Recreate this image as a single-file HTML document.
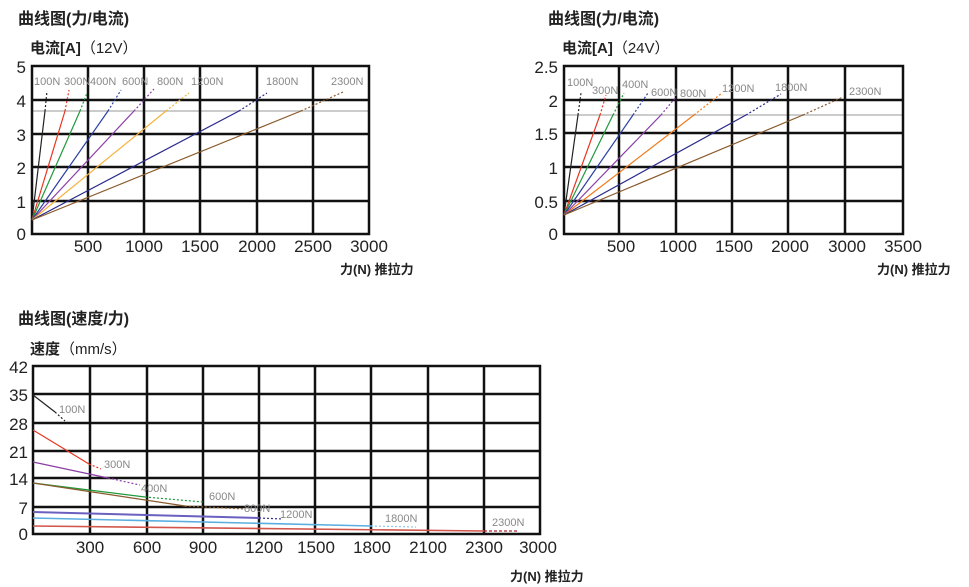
<!DOCTYPE html>
<html><head><meta charset="utf-8"><style>
body{margin:0;background:#fff;}
svg{display:block;font-family:"Liberation Sans","Noto Sans CJK SC",sans-serif;}
.t{font-size:16px;font-weight:bold;fill:#222}
.tk{font-size:17px;fill:#222}
.lb{font-size:11px;fill:#888}
.g{stroke:#111;stroke-width:2.5;fill:none}
</style></head><body>
<svg width="969" height="587" viewBox="0 0 969 587" xmlns="http://www.w3.org/2000/svg">
<!-- Chart 1 -->
<text x="18" y="24" class="t">曲线图(力/电流)</text>
<text x="30" y="53" class="t" style="font-size:15px">电流[A]<tspan font-weight="normal">（12V）</tspan></text>
<line x1="32" y1="111" x2="369" y2="111" stroke="#ccc" stroke-width="2"/>
<g class="g">
<rect x="32" y="66" width="337" height="168"/>
<path d="M88 66V234M144 66V234M200 66V234M257 66V234M313 66V234M32 100H369M32 134H369M32 167H369M32 201H369"/>
</g>
<g class="tk" text-anchor="end">
<text x="26" y="73">5</text><text x="26" y="107">4</text><text x="26" y="141">3</text><text x="26" y="174">2</text><text x="26" y="208">1</text><text x="26" y="240">0</text>
</g>
<g class="tk" text-anchor="middle">
<text x="88" y="252">500</text><text x="144" y="252">1000</text><text x="200" y="252">1500</text><text x="257" y="252">2000</text><text x="313" y="252">2500</text><text x="369" y="252">3000</text>
</g>
<text x="340" y="274" class="t" style="font-size:13px">力(N) 推拉力</text>
<g stroke-width="1.2" fill="none">
<path stroke="#222" d="M32 220L45 111"/><path stroke="#222" stroke-dasharray="2,2" d="M45 111L47 91"/>
<path stroke="#e8351f" d="M32 220L65 111"/><path stroke="#e8351f" stroke-dasharray="2,2" d="M65 111L69 90"/>
<path stroke="#1e9a3a" d="M32 220L80 111"/><path stroke="#1e9a3a" stroke-dasharray="2,2" d="M80 111L87 93"/>
<path stroke="#2b3fa0" d="M32 220L108 111"/><path stroke="#2b3fa0" stroke-dasharray="2,2" d="M108 111L121 90"/>
<path stroke="#8a3ea5" d="M32 220L134 111"/><path stroke="#8a3ea5" stroke-dasharray="2,2" d="M134 111L154 89"/>
<path stroke="#f5b23c" d="M32 220L166 111"/><path stroke="#f5b23c" stroke-dasharray="2,2" d="M166 111L189 93"/>
<path stroke="#2a2a8a" d="M32 220L239 111"/><path stroke="#2a2a8a" stroke-dasharray="2,2" d="M239 111L267 93"/>
<path stroke="#8a5a2a" d="M32 220L301 111"/><path stroke="#8a5a2a" stroke-dasharray="2,2" d="M301 111L343 92"/>
</g>
<g class="lb">
<text x="34" y="85">100N</text><text x="64" y="85">300N</text><text x="90" y="85">400N</text><text x="122" y="85">600N</text><text x="157" y="85">800N</text><text x="191" y="85">1200N</text><text x="266" y="85">1800N</text><text x="331" y="85">2300N</text>
</g>

<!-- Chart 2 -->
<text x="548" y="24" class="t">曲线图(力/电流)</text>
<text x="562" y="53" class="t" style="font-size:15px">电流[A]<tspan font-weight="normal">（24V）</tspan></text>
<line x1="564" y1="115" x2="903" y2="115" stroke="#ccc" stroke-width="2"/>
<g class="g">
<rect x="564" y="66" width="339" height="168"/>
<path d="M619 66V234M676 66V234M732 66V234M788 66V234M845 66V234M564 100H903M564 133H903M564 167H903M564 201H903"/>
</g>
<g class="tk" text-anchor="end">
<text x="558" y="73">2.5</text><text x="558" y="107">2</text><text x="558" y="140">1.5</text><text x="558" y="174">1</text><text x="558" y="208">0.5</text><text x="558" y="240">0</text>
</g>
<g class="tk" text-anchor="middle">
<text x="621" y="252">500</text><text x="678" y="252">1000</text><text x="734" y="252">1500</text><text x="790" y="252">2000</text><text x="847" y="252">3000</text><text x="903" y="252">3500</text>
</g>
<text x="877" y="274" class="t" style="font-size:13px">力(N) 推拉力</text>
<g stroke-width="1.2" fill="none">
<path stroke="#222" d="M564 215L578 115"/><path stroke="#222" stroke-dasharray="2,2" d="M578 115L581 93"/>
<path stroke="#e8351f" d="M564 215L600 115"/><path stroke="#e8351f" stroke-dasharray="2,2" d="M600 115L606 95"/>
<path stroke="#1e9a3a" d="M564 215L613 115"/><path stroke="#1e9a3a" stroke-dasharray="2,2" d="M613 115L624 93"/>
<path stroke="#2b3fa0" d="M564 215L633 115"/><path stroke="#2b3fa0" stroke-dasharray="2,2" d="M633 115L648 93"/>
<path stroke="#8a3ea5" d="M564 215L661 115"/><path stroke="#8a3ea5" stroke-dasharray="2,2" d="M661 115L676 97"/>
<path stroke="#f27a1a" d="M564 215L694 115"/><path stroke="#f27a1a" stroke-dasharray="2,2" d="M694 115L722 93"/>
<path stroke="#2a2a8a" d="M564 215L746 115"/><path stroke="#2a2a8a" stroke-dasharray="2,2" d="M746 115L781 94"/>
<path stroke="#8a5a2a" d="M564 215L803 115"/><path stroke="#8a5a2a" stroke-dasharray="2,2" d="M803 115L843 97"/>
</g>
<g class="lb">
<text x="567" y="86">100N</text><text x="592" y="94">300N</text><text x="622" y="88">400N</text><text x="651" y="96">600N</text><text x="680" y="97">800N</text><text x="722" y="92">1200N</text><text x="775" y="91">1800N</text><text x="849" y="95">2300N</text>
</g>

<!-- Chart 3 -->
<text x="18" y="324" class="t">曲线图(速度/力)</text>
<text x="30" y="354" class="t" style="font-size:15px">速度<tspan font-weight="normal">（mm/s）</tspan></text>
<g class="g">
<rect x="33" y="366" width="507" height="168"/>
<path d="M90 366V534M147 366V534M203 366V534M259 366V534M315 366V534M371 366V534M428 366V534M484 366V534M33 394H540M33 423H540M33 451H540M33 478H540M33 507H540"/>
</g>
<g class="tk" text-anchor="end">
<text x="28" y="373">42</text><text x="28" y="401">35</text><text x="28" y="430">28</text><text x="28" y="458">21</text><text x="28" y="485">14</text><text x="28" y="514">7</text><text x="28" y="540">0</text>
</g>
<g class="tk" text-anchor="middle">
<text x="90" y="553">300</text><text x="147" y="553">600</text><text x="203" y="553">900</text><text x="264" y="553">1200</text><text x="316" y="553">1500</text><text x="372" y="553">1800</text><text x="428" y="553">2100</text><text x="484" y="553">2300</text><text x="538" y="553">3000</text>
</g>
<text x="510" y="581" class="t" style="font-size:13px">力(N) 推拉力</text>
<g stroke-width="1.2" fill="none">
<path stroke="#222" d="M33 395L55 412"/><path stroke="#222" stroke-dasharray="2,2" d="M55 412L65 421"/>
<path stroke="#e8351f" d="M33 430L89 464"/><path stroke="#e8351f" stroke-dasharray="2,2" d="M89 464L101 469"/>
<path stroke="#8a3ea5" d="M33 462L108 478"/><path stroke="#8a3ea5" stroke-dasharray="2,2" d="M108 478L140 485"/>
<path stroke="#1e9a3a" d="M33 483L145 497"/><path stroke="#1e9a3a" stroke-dasharray="2,2" d="M145 497L203 502"/>
<path stroke="#8a5a2a" d="M33 483L185 506"/><path stroke="#8a5a2a" stroke-dasharray="2,2" d="M185 506L245 509"/>
<path stroke="#6a60c0" stroke-width="2" d="M33 512L259 518"/><path stroke="#2a2a8a" stroke-dasharray="2,2" d="M259 518L283 519"/>
<path stroke="#5aaee0" stroke-width="1.6" d="M33 518L371 526"/><path stroke="#8cc8ec" stroke-dasharray="2,2" d="M371 526L416 527"/>
<path stroke="#d2554a" stroke-width="1.6" d="M33 526L484 531"/><path stroke="#b02030" stroke-dasharray="3,2" d="M484 531L517 531"/>
</g>
<g class="lb">
<text x="59" y="413">100N</text><text x="104" y="468">300N</text><text x="141" y="492">400N</text><text x="209" y="500">600N</text><text x="244" y="512">800N</text><text x="280" y="518">1200N</text><text x="385" y="522">1800N</text><text x="492" y="526">2300N</text>
</g>
</svg>
</body></html>
